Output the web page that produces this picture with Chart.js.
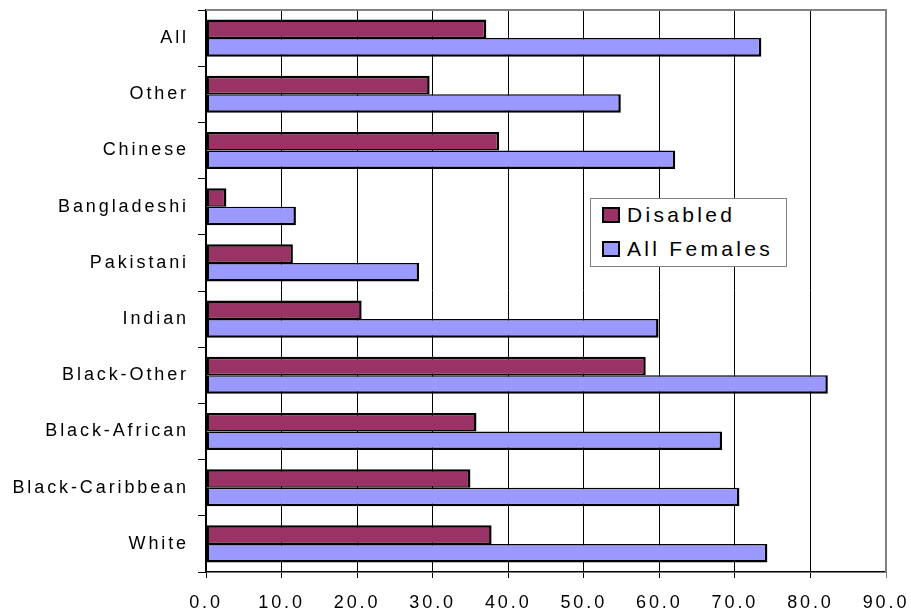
<!DOCTYPE html>
<html>
<head>
<meta charset="utf-8">
<script src="https://cdn.jsdelivr.net/npm/chart.js@4.4.1/dist/chart.umd.min.js"></script>
<style>
  html, body { margin: 0; padding: 0; background: #fff; }
  #wrap { position: relative; width: 911px; height: 614px; }
  #legend {
    position: absolute; left: 590px; top: 198px; width: 197px; height: 69px;
    box-sizing: border-box; border: 1px solid #808080; background: #fff;
    font-family: "Liberation Sans", Arial, sans-serif; font-size: 21px;
    letter-spacing: 3.3px; color: #000;
  }
  #legend .item { position: absolute; left: 11px; height: 24px; display: flex; align-items: center; white-space: nowrap; }
  #legend .sw { width: 14px; height: 12px; border: 2px solid #000; margin-right: 7px; flex: none; }
</style>
</head>
<body>
<div id="wrap">
  <canvas id="chart" width="911" height="614"></canvas>
  <div id="legend"></div>
</div>
<script>
// Ethnic groups, listed top to bottom
const categories = ['All', 'Other', 'Chinese', 'Bangladeshi', 'Pakistani', 'Indian',
                    'Black-Other', 'Black-African', 'Black-Caribbean', 'White'];
const disabled   = [37.1, 29.6, 38.8, 2.7, 11.5, 20.6, 58.2, 35.8, 35.0, 37.8];
const allFemales = [73.5, 54.9, 62.1, 11.9, 28.2, 59.9, 82.3, 68.3, 70.6, 74.3];
const seriesNames = ['Disabled', 'All Females'];
const valueTickLabels = ['0.0', '10.0', '20.0', '30.0', '40.0', '50.0', '60.0', '70.0', '80.0', '90.0'];

const FONT = '"Liberation Sans", Arial, sans-serif';
const SPACING = '2.9px';

// Spread glyphs a little, as the axis text is set with wide tracking
const tracking = {
  id: 'tracking',
  beforeUpdate(chart) { chart.ctx.letterSpacing = SPACING; },
  beforeDraw(chart) { chart.ctx.letterSpacing = SPACING; }
};

// Grey frame along the top and right of the plot area
const frame = {
  id: 'frame',
  afterDraw(chart) {
    const { ctx, chartArea: a } = chart;
    ctx.save();
    ctx.strokeStyle = '#808080';
    ctx.lineWidth = 2;
    ctx.beginPath();
    ctx.moveTo(a.left, a.top);
    ctx.lineTo(a.right, a.top);
    ctx.lineTo(a.right, a.bottom);
    ctx.stroke();
    ctx.restore();
  }
};

const chart = new Chart(document.getElementById('chart'), {
  type: 'bar',
  data: {
    labels: categories,
    datasets: [
      {
        label: seriesNames[0], data: disabled,
        backgroundColor: '#993366', borderColor: '#000',
        borderWidth: { top: 2.5, left: 2.5, right: 2.5, bottom: 1.5 }, borderSkipped: false
      },
      {
        label: seriesNames[1], data: allFemales,
        backgroundColor: '#9999FF', borderColor: '#000',
        borderWidth: { top: 1.5, left: 2.5, right: 2.5, bottom: 2.5 }, borderSkipped: false
      }
    ]
  },
  options: {
    indexAxis: 'y',
    responsive: false,
    animation: false,
    devicePixelRatio: 1,
    categoryPercentage: 0.66,
    barPercentage: 1.0,
    layout: { padding: { top: 10, right: 25, left: 0, bottom: 0 } },
    plugins: { legend: { display: false }, tooltip: { enabled: false } },
    scales: {
      x: {
        min: 0, max: 90,
        afterFit(scale) { scale.height = 42; scale.paddingLeft = 0; scale.paddingRight = 0; },
        ticks: {
          stepSize: 10,
          color: '#000',
          padding: 14,
          maxRotation: 0,
          font: { family: FONT, size: 18 },
          callback: (v, i) => valueTickLabels[i]
        },
        grid: {
          color: c => (c.tick && c.tick.value === 90) ? '#808080' : '#000',
          lineWidth: 1,
          tickLength: 6
        },
        border: { display: true, color: '#000', width: 1.5 }
      },
      y: {
        afterFit(scale) { scale.width = 206; scale.paddingTop = 0; scale.paddingBottom = 0; },
        ticks: {
          color: '#000',
          padding: 9,
          font: { family: FONT, size: 18 }
        },
        grid: { drawOnChartArea: false, drawTicks: true, tickLength: 8, color: '#000' },
        border: { display: true, color: '#000', width: 1.5 }
      }
    }
  },
  plugins: [tracking, frame]
});

// Legend box inside the plot, built from the chart's own datasets
const legendEl = document.getElementById('legend');
chart.data.datasets.forEach((ds, i) => {
  const item = document.createElement('div');
  item.className = 'item';
  item.style.top = (4 + i * 34) + 'px';
  const sw = document.createElement('span');
  sw.className = 'sw';
  sw.style.background = ds.backgroundColor;
  const txt = document.createElement('span');
  txt.textContent = ds.label;
  item.appendChild(sw);
  item.appendChild(txt);
  legendEl.appendChild(item);
});
</script>
</body>
</html>
